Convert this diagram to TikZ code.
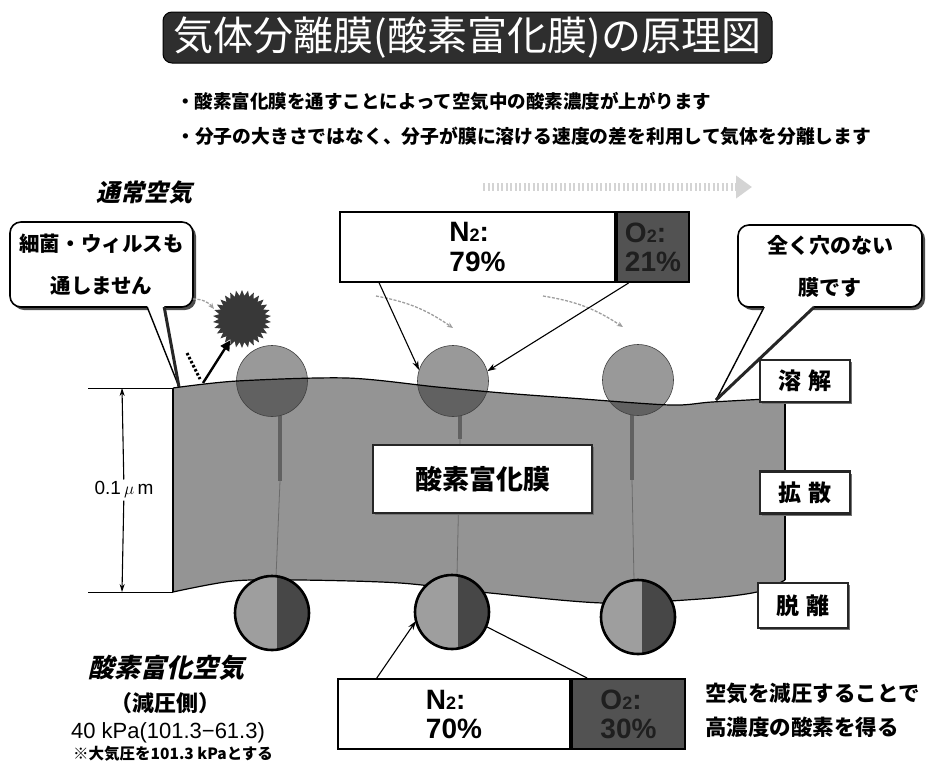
\documentclass[tikz,border=0pt]{standalone}
\usepackage{fontspec}
\setmainfont{Liberation Sans}
\newfontfamily\jp{Noto Sans CJK JP}
\newfontfamily\jpsl{Noto Sans CJK JP}[FakeSlant=0.22]
\usetikzlibrary{shapes.geometric,shadows,arrows.meta,calc}
\newcommand\fs[1]{\fontsize{#1}{#1}\selectfont}
% outline of the membrane slab
\newcommand\membraneoutline{plot[smooth] coordinates {(173,388) (237,381) (347,378) (437,387) (503,393) (570,398) (670,405) (712,402) (785,398)}
  -- plot[smooth] coordinates {(785,580) (757,592) (700,599) (603,603) (490,593) (400,583) (300,580) (233,581) (173,592)} -- cycle}

\begin{document}
\begin{tikzpicture}[x=1pt,y=-1pt,
  callout/.style={draw=black, line width=1.6pt, fill=white, rounded corners=11pt, inner sep=0pt, align=center,
    drop shadow={shadow xshift=3pt, shadow yshift=-3pt, fill=black!70, opacity=1}},
  stagebox/.style={draw=black!85, line width=2.8pt, fill=white, inner sep=0pt,
    drop shadow={shadow xshift=2pt, shadow yshift=-2pt, fill=black!55, opacity=1},
    font=\jp\bfseries\fs{23}},
  barwhite/.style={draw=black, line width=2pt, fill=white, inner sep=0pt, align=left,
    font=\bfseries\fontsize{28}{29}\selectfont},
  bardark/.style={draw=black, line width=2pt, fill=black!68, inner sep=0pt, align=left, text=black!88,
    font=\bfseries\fontsize{28}{29}\selectfont},
  ballspot/.style={circle, inner sep=0pt},
  stemline/.style={line width=4.5pt, black!62},
  trailline/.style={line width=0.8pt, black!58},
  ghostarrow/.style={black!38, line width=1.3pt, dash pattern=on 3pt off 1.5pt, -{Stealth[length=6pt,width=5pt]}},
  pointer/.style={line width=1.1pt, -{Stealth[length=9pt,width=6pt]}},
  tailline/.style={line width=1.4pt},
  tailshade/.style={line width=3pt, black!85},
]
\useasboundingbox (0,0) rectangle (928,763);

% ---------- heading and bullet lines ----------
\node[fill=black!82, draw=black, line width=1pt, rounded corners=9pt, minimum width=609pt,
  minimum height=51pt, inner sep=0pt, text=white] (title) at (467.5,37.5)
  {\jp\fs{40}気体分離膜(酸素富化膜)の原理図};
\node[anchor=west, inner sep=0pt] (bul1) at (176,101)
  {\jp\bfseries\fs{18.5}・酸素富化膜を通すことによって空気中の酸素濃度が上がります};
\node[anchor=west, inner sep=0pt] (bul2) at (176,136)
  {\jp\bfseries\fs{18.8}・分子の大きさではなく、分子が膜に溶ける速度の差を利用して気体を分離します};

\node (normair) at (144,193) {\jpsl\bfseries\fs{24}通常空気};

% ---------- faint block arrow over the composition bar ----------
\coordinate (gb1) at (483,187);
\coordinate (gb2) at (752,187);
\draw[black!17, line width=8pt, dash pattern=on 2pt off 2.5pt, -{Triangle[length=16pt,width=22pt]}] (gb1) -- (gb2);

% ---------- composition of ordinary air ----------
\node[barwhite, minimum width=275pt, minimum height=70pt] (n2t) at (477.5,247)
  {N{\fs{18}2}:\\79\%};
\node[bardark, minimum width=72pt, minimum height=70pt, anchor=west] (o2t) at (n2t.east)
  {O{\fs{18}2}:\\21\%};

% ---------- speech balloons ----------
\node[callout, minimum width=183pt, minimum height=85pt, font=\jp\bfseries\fontsize{20.5}{21}\selectfont]
  (cL) at (101.5,264.5) {細菌・ウィルスも\\[21pt]通しません};
\coordinate (tipL) at (179,387);
\coordinate (cLt1) at ($(cL.south west)+(138,-0.8)$);
\coordinate (cLt2) at ($(cL.south west)+(155,-0.8)$);
\fill[white] ($(cLt1)+(0,-1)$) -- (tipL) -- ($(cLt2)+(0,-1)$) -- cycle;
\draw[tailline] (cLt1) -- (tipL);
\draw[tailshade] (cLt2) -- (tipL);

\node[callout, minimum width=184pt, minimum height=82pt, font=\jp\bfseries\fontsize{21}{21}\selectfont]
  (cR) at (830,266) {全く穴のない\\[21pt]膜です};
\coordinate (tipR) at (716,400);
\coordinate (cRt1) at ($(cR.south west)+(27,-0.8)$);
\coordinate (cRt2) at ($(cR.south west)+(77,-0.8)$);
\fill[white] ($(cRt1)+(0,-1)$) -- (tipR) -- ($(cRt2)+(0,-1)$) -- cycle;
\draw[tailline] (cRt1) -- (tipR);
\draw[tailshade] (cRt2) -- (tipR);

% ---------- membrane ----------
\fill[black!42] \membraneoutline;

% molecule positions
\node[ballspot, minimum size=71pt] (t1) at (272,381) {};
\node[ballspot, minimum size=71pt] (t2) at (453,381) {};
\node[ballspot, minimum size=71pt] (t3) at (638,380) {};
\node[ballspot, minimum size=74pt] (b1) at (272,613) {};
\node[ballspot, minimum size=74pt] (b2) at (452,612) {};
\node[ballspot, minimum size=74pt] (b3) at (638,617) {};

% diffusion trails through the membrane
\draw[trailline] ($(t1)+(8,100)$) -- ($(b1)+(4,-36)$);
\draw[trailline] ($(t2)+(7,58)$) -- ($(b2)+(5,-36)$);
\draw[trailline] ($(t3)+(-6,100)$) -- ($(b3)+(-4,-36)$);
\draw[stemline] ($(t1)+(8,30)$) -- ($(t1)+(8,100)$);
\draw[stemline] ($(t2)+(7,30)$) -- ($(t2)+(7,58)$);
\draw[stemline] ($(t3)+(-6,30)$) -- ($(t3)+(-6,100)$);

% molecules dissolving at the upper surface
\foreach \b in {t1,t2,t3} {
  \fill[black!40] (\b) circle (35.5pt);
}
\begin{scope}
  \clip \membraneoutline;
  \foreach \b in {t1,t2,t3} {
    \fill[black!62] (\b) circle (35.5pt);
  }
\end{scope}
\foreach \b in {t1,t2,t3} {
  \draw[black!75, line width=0.6pt] (\b) circle (35.5pt);
}

% membrane edges
\coordinate (membTL) at (173,388);
\coordinate (membBL) at (173,592);
\coordinate (membTR) at (785,398);
\coordinate (membBR) at (785,580);
\draw[line width=1.2pt] plot[smooth] coordinates {(173,388) (237,381) (347,378) (437,387) (503,393) (570,398) (670,405) (712,402) (785,398)};
\draw[line width=1.2pt] plot[smooth] coordinates {(785,580) (757,592) (700,599) (603,603) (490,593) (400,583) (300,580) (233,581) (173,592)};
\draw[line width=1.2pt] (membTL) -- (membBL);
\draw[line width=1.2pt] (membTR) -- (membBR);

% molecules leaving at the lower surface
\foreach \b/\s in {b1/5,b2/6,b3/4} {
  \begin{scope}
    \clip (\b) circle (37pt);
    \fill[black!38] ($(\b)+(-40,-40)$) rectangle ($(\b)+(40,40)$);
    \fill[black!72] ($(\b)+(\s,-40)$) rectangle ($(\b)+(40,40)$);
  \end{scope}
  \draw[line width=2.6pt] (\b) circle (37pt);
}

% ---------- virus bouncing off the surface ----------
\node[star, star points=30, star point ratio=1.25, minimum size=58pt, inner sep=0pt, fill=black!78] (virus) at (242,319) {};
\coordinate (dotA) at (187,353);
\coordinate (dotB) at (200,379);
\coordinate (bounceA) at (203,383);
\draw[line width=3pt, dash pattern=on 2.5pt off 2pt] (dotA) -- (dotB);
\draw[line width=2.4pt, -{Triangle[length=10pt,width=10pt]}] (bounceA) -- (virus.241);

% faint motion arrows
\coordinate (gv1) at (193,299);
\coordinate (gv2) at (214,309);
\draw[ghostarrow] (gv1) to[bend left=25] (gv2);
\coordinate (ga1) at (376,296);
\coordinate (ga2) at (453,328);
\draw[ghostarrow] (ga1) to[bend left=12] (ga2);
\coordinate (gc1) at (543,296);
\coordinate (gc2) at (623,327);
\draw[ghostarrow] (gc1) to[bend left=12] (gc2);

% ---------- stage labels ----------
\node[stagebox, minimum width=90pt, minimum height=42pt] (s1) at (805,381) {溶\hspace{0.3em}解};
\node[stagebox, minimum width=90pt, minimum height=42pt] (s2) at (805,492.5) {拡\hspace{0.3em}散};
\node[stagebox, minimum width=90pt, minimum height=45pt] (s3) at (803,605.5) {脱\hspace{0.3em}離};
\node[stagebox, minimum width=219pt, minimum height=68pt, font=\jp\bfseries\fs{27}] (mlabel) at (482.5,479) {酸素富化膜};

% ---------- thickness dimension ----------
\coordinate (dimTL) at (88,388);
\coordinate (dimBL) at (88,592);
\coordinate (dimT) at (122,388);
\coordinate (dimB) at (122,592);
\draw[line width=1pt] (dimTL) -- (membTL);
\draw[line width=1pt] (dimBL) -- (membBL);
\node[fill=white, inner sep=2pt] (dimlab) at (124,490) {\fs{19}0.1\,$\mu$\,m};
\draw[line width=1.1pt, -{Stealth[length=8pt,width=5pt]}] (dimlab) -- (dimT);
\draw[line width=1.1pt, -{Stealth[length=8pt,width=5pt]}] (dimlab) -- (dimB);

% ---------- enriched air composition ----------
\node[barwhite, minimum width=232pt, minimum height=70pt] (n2b) at (454,714)
  {N{\fs{18}2}:\\70\%};
\node[bardark, minimum width=113pt, minimum height=70pt, anchor=west] (o2b) at (n2b.east)
  {O{\fs{18}2}:\\30\%};

% pointers between bars and molecules
\draw[pointer] ($(n2t.south west)!0.145!(n2t.south east)$) -- (t2.162);
\draw[pointer] ($(o2t.south west)!0.17!(o2t.south east)$) -- (t2.16);
\draw[pointer] ($(n2b.north west)!0.17!(n2b.north east)$) -- (b2.194);
\draw[line width=1.1pt] (b2.-23) -- ($(o2b.north west)!0.14!(o2b.north east)$);

% ---------- captions at the bottom ----------
\node (enr) at (166,668) {\jpsl\bfseries\fs{26}酸素富化空気};
\node (enrb) at (165,703) {\jp\bfseries\fs{22}（減圧側）};
\node (enrc) at (168,733) {\fs{22}40 kPa(101.3−61.3)};
\node (enrd) at (173,754) {\jp\bfseries\fs{15.5}※大気圧を101.3 kPaとする};

\node[anchor=west, inner sep=0pt] (note1) at (705,693) {\jp\bfseries\fs{21.5}空気を減圧することで};
\node[anchor=west, inner sep=0pt] (note2) at (705,727) {\jp\bfseries\fs{21.5}高濃度の酸素を得る};

\end{tikzpicture}
\end{document}
